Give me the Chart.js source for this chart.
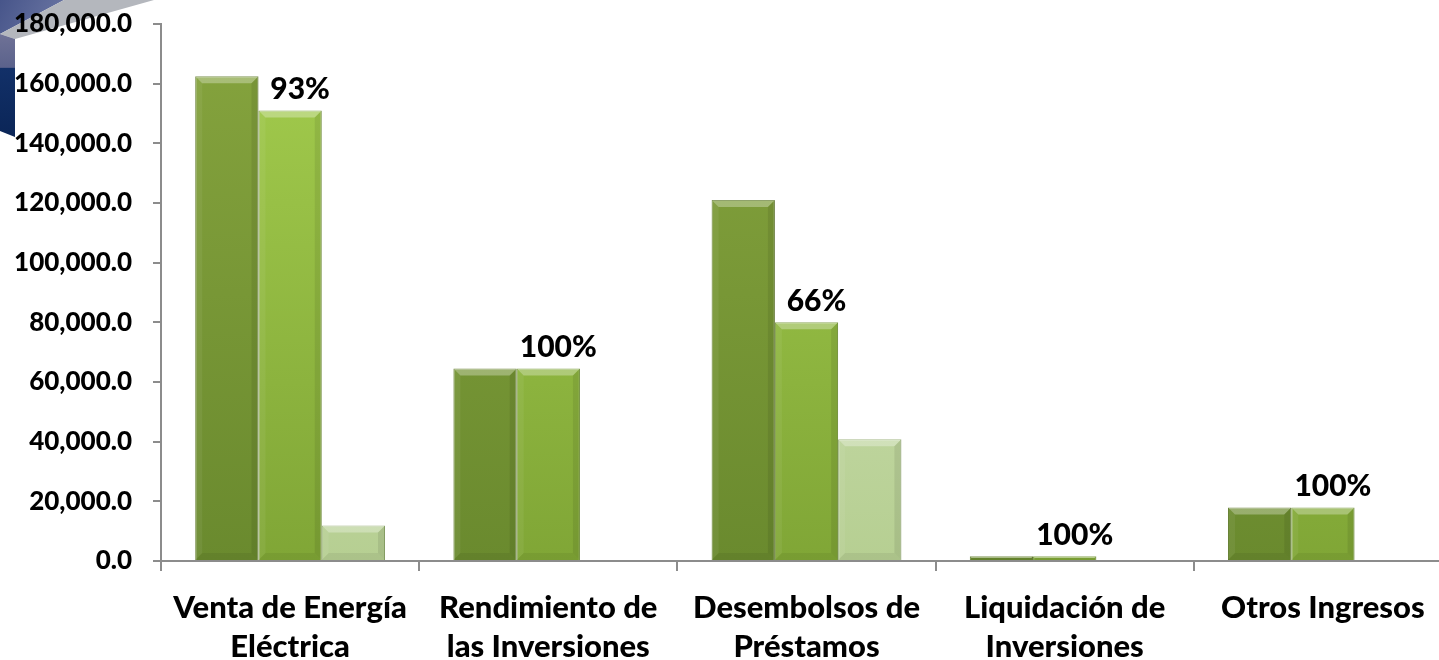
<!DOCTYPE html>
<html>
<head>
<meta charset="utf-8">
<script src="https://cdn.jsdelivr.net/npm/chart.js@4.4.1/dist/chart.umd.min.js"></script>
<style>
  html, body { margin: 0; padding: 0; background: #fff; overflow: hidden; }
  #wrap { width: 1460px; height: 660px; }
</style>
</head>
<body>
<div id="wrap"><canvas id="ingresosChart"></canvas></div>
<script>
// Ingresos: programado vs ejecutado
const categories = [
  ['Venta de Energía', 'Eléctrica'],
  ['Rendimiento de', 'las Inversiones'],
  ['Desembolsos de', 'Préstamos'],
  ['Liquidación de', 'Inversiones'],
  ['Otros Ingresos']
];
const serie1 = [162500, 64500, 121000, 1600, 17900];
const serie2 = [151000, 64500, 80000, 1600, 17900];
const serie3 = [11900, 0, 40800, 0, 0];
const percentLabels = ['93%', '100%', '66%', '100%', '100%'];
const yMax = 180000;
const yStep = 20000;

const FONT = 'Lato, "Open Sans", sans-serif';

// vertical gradient for the bars
function barGradient(ctx, top, bottom) {
  const chart = ctx.chart;
  const area = chart.chartArea;
  if (!area) return top;
  const g = chart.ctx.createLinearGradient(0, area.top, 0, area.bottom);
  g.addColorStop(0, top);
  g.addColorStop(1, bottom);
  return g;
}

// corner decoration (top left)
const cornerDeco = {
  id: 'cornerDeco',
  beforeDraw(chart) {
    const c = chart.ctx;
    c.save();
    let g = c.createLinearGradient(0, 0, 60, 30);
    g.addColorStop(0, '#47558a');
    g.addColorStop(1, '#6b76a3');
    c.fillStyle = g;
    c.beginPath();
    c.moveTo(0, 0); c.lineTo(64, 0); c.lineTo(0, 34); c.closePath();
    c.fill();
    // grey band
    c.fillStyle = '#b4b7bd';
    c.beginPath();
    c.moveTo(64, 0); c.lineTo(154, 0); c.lineTo(15, 39); c.lineTo(0, 34); c.closePath();
    c.fill();
    // block front face
    g = c.createLinearGradient(0, 34, 0, 135);
    g.addColorStop(0, '#6f7296');
    g.addColorStop(0.33, '#5b628c');
    g.addColorStop(0.34, '#123068');
    g.addColorStop(1, '#0b2658');
    c.fillStyle = g;
    c.beginPath();
    c.moveTo(0, 34); c.lineTo(15, 39); c.lineTo(15, 137); c.lineTo(0, 131); c.closePath();
    c.fill();
    c.restore();
  }
};

// bevel on each bar + percent labels
const bevelAndLabels = {
  id: 'bevelAndLabels',
  afterDatasetsDraw(chart) {
    const c = chart.ctx;
    c.save();
    chart.data.datasets.forEach((ds, di) => {
      const meta = chart.getDatasetMeta(di);
      meta.data.forEach((bar) => {
        const h = bar.base - bar.y;
        if (h <= 0.5) return;
        const l = bar.x - bar.width / 2, r = bar.x + bar.width / 2;
        const t = bar.y, b = bar.base;
        const e = Math.min(7, h / 2);
        c.fillStyle = 'rgba(255,255,255,0.30)';
        c.beginPath();
        c.moveTo(l, t); c.lineTo(r, t); c.lineTo(r - e, t + e); c.lineTo(l + e, t + e); c.closePath();
        c.fill();
        c.fillStyle = 'rgba(0,0,0,0.08)';
        c.beginPath();
        c.moveTo(r, t); c.lineTo(r, b); c.lineTo(r - e, b - e); c.lineTo(r - e, t + e); c.closePath();
        c.fill();
        c.fillStyle = 'rgba(255,255,255,0.06)';
        c.beginPath();
        c.moveTo(l, t); c.lineTo(l, b); c.lineTo(l + e, b - e); c.lineTo(l + e, t + e); c.closePath();
        c.fill();
        c.fillStyle = 'rgba(0,0,0,0.06)';
        c.beginPath();
        c.moveTo(l, b); c.lineTo(r, b); c.lineTo(r - e, b - e); c.lineTo(l + e, b - e); c.closePath();
        c.fill();
      });
    });
    // percent labels above the second series
    const meta = chart.getDatasetMeta(1);
    c.font = '900 30px ' + FONT;
    c.fillStyle = '#000';
    c.textAlign = 'center';
    c.textBaseline = 'bottom';
    meta.data.forEach((bar, i) => {
      c.fillText(percentLabels[i], bar.x + 10, bar.y - 6);
    });
    c.restore();
  }
};

const ctx = document.getElementById('ingresosChart');

new Chart(ctx, {
  type: 'bar',
  data: {
    labels: categories,
    datasets: [
      {
        label: 'Programado',
        data: serie1,
        backgroundColor: (c) => barGradient(c, '#86a43e', '#6a8a2e'),
        borderColor: '#5f7a2a',
        borderWidth: 1
      },
      {
        label: 'Ejecutado',
        data: serie2,
        backgroundColor: (c) => barGradient(c, '#a4cd4e', '#80a636'),
        borderColor: '#6f9230',
        borderWidth: 1
      },
      {
        label: 'Pendiente',
        data: serie3,
        backgroundColor: (c) => barGradient(c, '#d4e4bc', '#b6cf92'),
        borderColor: '#8ea86a',
        borderWidth: 1
      }
    ]
  },
  options: {
    responsive: true,
    maintainAspectRatio: false,
    animation: false,
    layout: { padding: { top: 24, right: 8, left: 0, bottom: 0 } },
    datasets: {
      bar: { categoryPercentage: 0.735, barPercentage: 1.0 }
    },
    plugins: {
      legend: { display: false },
      tooltip: { enabled: false }
    },
    scales: {
      x: {
        afterFit: (scale) => { scale.height = 99; },
        grid: {
          offset: true,
          drawOnChartArea: false,
          drawTicks: true,
          tickLength: 10,
          color: '#8c8c8c',
          lineWidth: 2
        },
        border: { color: '#8c8c8c', width: 2 },
        ticks: {
          color: '#000',
          padding: 17,
          maxRotation: 0,
          autoSkip: false,
          font: { family: FONT, size: 31, weight: '900', lineHeight: 1.26 }
        }
      },
      y: {
        min: 0,
        max: yMax,
        afterFit: (scale) => {
          scale.width = 161;
          scale.paddingTop = 0;
          scale.paddingBottom = 0;
        },
        grid: {
          drawOnChartArea: false,
          drawTicks: true,
          tickLength: 8,
          color: '#8c8c8c',
          lineWidth: 2
        },
        border: { color: '#8c8c8c', width: 2 },
        ticks: {
          stepSize: yStep,
          color: '#000',
          padding: 21,
          font: { family: FONT, size: 26, weight: '900' },
          callback: (v) => v.toLocaleString('en-US', { minimumFractionDigits: 1, maximumFractionDigits: 1 })
        }
      }
    }
  },
  plugins: [cornerDeco, bevelAndLabels]
});
</script>
</body>
</html>
